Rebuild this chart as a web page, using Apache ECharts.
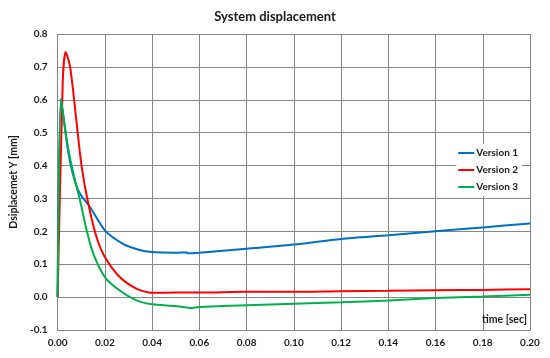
<!DOCTYPE html>
<html><head><meta charset="utf-8">
<script src="https://cdn.jsdelivr.net/npm/echarts@6/dist/echarts.min.js"></script>
<style>html,body{margin:0;padding:0;background:#fff}#c{width:550px;height:358px}</style>
</head><body><div id="c"></div>
<script>
const seriesNames = ['Version 1', 'Version 2', 'Version 3'];
const xTicks = ['0.00','0.02','0.04','0.06','0.08','0.10','0.12','0.14','0.16','0.18','0.20'];
const yTicks = ['-0.1','0.0','0.1','0.2','0.3','0.4','0.5','0.6','0.7','0.8'];

const t1 = [0, 0.0014, 0.003, 0.0046, 0.007, 0.0095, 0.0137, 0.020, 0.0277, 0.034, 0.04, 0.05, 0.0548, 0.0552, 0.06, 0.08, 0.10, 0.12, 0.14, 0.16, 0.18, 0.20];
const v1 = [0, 0.603, 0.52, 0.437, 0.36, 0.314, 0.274, 0.203, 0.162, 0.145, 0.137, 0.135, 0.136, 0.133, 0.135, 0.147, 0.160, 0.177, 0.188, 0.200, 0.212, 0.224];

const t2 = [0, 0.0022, 0.0034, 0.0053, 0.0081, 0.0102, 0.013, 0.0165, 0.020, 0.0263, 0.0333, 0.04, 0.05, 0.06, 0.08, 0.10, 0.12, 0.14, 0.16, 0.18, 0.20];
const v2 = [0, 0.66, 0.745, 0.70, 0.527, 0.395, 0.284, 0.182, 0.122, 0.061, 0.026, 0.013, 0.014, 0.014, 0.016, 0.016, 0.018, 0.019, 0.021, 0.022, 0.024];

const t3 = [0, 0.0014, 0.0039, 0.0067, 0.0095, 0.0123, 0.0151, 0.020, 0.0263, 0.0334, 0.04, 0.05, 0.056, 0.06, 0.08, 0.10, 0.12, 0.14, 0.16, 0.18, 0.20];
const v3 = [0, 0.603, 0.476, 0.375, 0.294, 0.203, 0.132, 0.061, 0.020, -0.010, -0.022, -0.027, -0.033, -0.030, -0.025, -0.020, -0.016, -0.010, -0.003, 0.002, 0.007];

const colors = ['#0070C0', '#FF0000', '#00B050'];
const pair = (t, v) => t.map((x, i) => [x, v[i]]);
const font = 'Lato, "Open Sans", sans-serif';

const chart = echarts.init(document.getElementById('c'), null, {renderer: 'canvas'});
chart.setOption({
  animation: false,
  backgroundColor: '#fff',
  title: {
    text: 'System displacement', left: 'center', top: 5,
    textStyle: {fontFamily: font, fontWeight: 'bold', fontSize: 13, color: '#1a1a1a'}
  },
  grid: {left: 54, right: 20, top: 34, bottom: 28},
  legend: {
    orient: 'vertical', right: 28, top: 144,
    data: seriesNames,
    icon: 'rect', itemWidth: 16, itemHeight: 2, itemGap: 7,
    backgroundColor: '#fff', padding: [4, 4, 4, 2],
    textStyle: {fontFamily: font, fontWeight: 'bold', fontSize: 10, color: '#1a1a1a', padding: [0, 0, 0, -3]}
  },
  xAxis: {
    type: 'value', min: 0, max: 0.2, interval: 0.02,
    name: 'time [sec]', nameLocation: 'end', nameGap: -3,
    nameTextStyle: {fontFamily: font, fontWeight: 'bold', fontSize: 10.5, color: '#1a1a1a', align: 'right', verticalAlign: 'bottom', padding: [0, 0, 5, 0]},
    axisLine: {onZero: false, lineStyle: {color: '#868686'}},
    axisTick: {show: false},
    axisLabel: {fontFamily: font, fontWeight: 'bold', fontSize: 10, color: '#1a1a1a', margin: 8,
      formatter: (v) => xTicks[Math.round(v / 0.02)]},
    splitLine: {show: true, lineStyle: {color: '#868686', width: 1}}
  },
  yAxis: {
    type: 'value', min: -0.1, max: 0.8, interval: 0.1,
    name: 'Dsiplacemet Y [mm]', nameLocation: 'middle', nameGap: 34,
    nameTextStyle: {fontFamily: font, fontWeight: 'bold', fontSize: 10.5, color: '#1a1a1a'},
    axisLine: {show: true, lineStyle: {color: '#868686'}},
    axisTick: {show: false},
    axisLabel: {fontFamily: font, fontWeight: 'bold', fontSize: 10, color: '#1a1a1a', margin: 10,
      formatter: (v) => yTicks[Math.round((v + 0.1) / 0.1)]},
    splitLine: {show: true, lineStyle: {color: '#868686', width: 1}}
  },
  series: [
    {name: seriesNames[0], type: 'line', data: pair(t1, v1)},
    {name: seriesNames[1], type: 'line', data: pair(t2, v2)},
    {name: seriesNames[2], type: 'line', data: pair(t3, v3)}
  ].map((s, i) => Object.assign(s, {
    showSymbol: false, smooth: 0.25, color: colors[i],
    lineStyle: {color: colors[i], width: 2}
  }))
});
</script></body></html>
